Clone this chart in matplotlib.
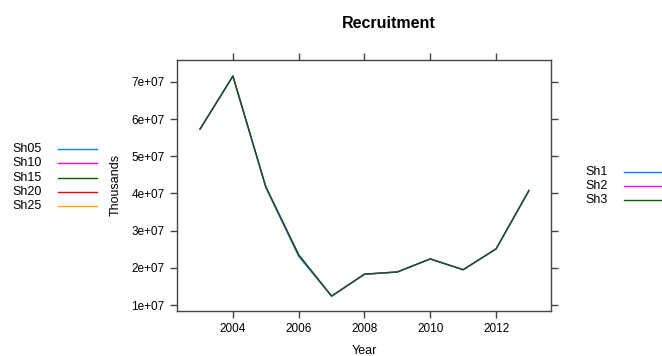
import matplotlib
matplotlib.use("Agg")
import matplotlib.pyplot as plt
from matplotlib.lines import Line2D

plt.rcParams['font.family'] = ['Liberation Sans', 'DejaVu Sans']

years = [2003, 2004, 2005, 2006, 2007, 2008, 2009, 2010, 2011, 2012, 2013]
sh1 = [5.73e7, 7.15e7, 4.16e7, 2.31e7, 1.24e7, 1.83e7, 1.89e7, 2.24e7, 1.95e7, 2.51e7, 4.08e7]
sh2 = [5.73e7, 7.16e7, 4.18e7, 2.35e7, 1.24e7, 1.83e7, 1.89e7, 2.24e7, 1.95e7, 2.51e7, 4.08e7]
sh3 = [5.73e7, 7.16e7, 4.18e7, 2.35e7, 1.24e7, 1.83e7, 1.89e7, 2.24e7, 1.95e7, 2.51e7, 4.08e7]

left_labels = ['Sh05', 'Sh10', 'Sh15', 'Sh20', 'Sh25']
left_colors = ['#0080ff', '#ff00ff', '#006400', '#ff0000', '#ffa500']
right_labels = ['Sh1', 'Sh2', 'Sh3']
right_colors = ['#0080ff', '#ff00ff', '#006400']

xticks = [2004, 2006, 2008, 2010, 2012]
yticks = [1e7, 2e7, 3e7, 4e7, 5e7, 6e7, 7e7]
ytick_labels = ['1e+07', '2e+07', '3e+07', '4e+07', '5e+07', '6e+07', '7e+07']

W, H = 662, 356
fig = plt.figure(figsize=(W / 100, H / 100), dpi=100)
ax = fig.add_axes([177 / W, 1 - 311 / H, (551 - 177) / W, (311 - 60) / H])

# series overlap almost exactly; last one (green) ends up on top
for vals, col in zip([sh1, sh2, sh3], right_colors):
    ax.plot(years, vals, color=col, lw=1)

ax.set_xlim(2002.3, 2013.67)
ax.set_ylim(0.84e7, 7.59e7)
ax.set_xticks(xticks)
ax.set_yticks(yticks)
ax.set_yticklabels(ytick_labels)
ax.tick_params(direction='out', length=5, width=1, color='#444444',
               labelsize=8.5, top=True, right=True, labeltop=False, labelright=False, pad=4)
for s in ax.spines.values():
    s.set_color('#444444')
    s.set_linewidth(1)

fig.text(389 / W, 1 - 23 / H, 'Recruitment', ha='center', va='center', fontsize=11.5, fontweight='bold')
fig.text(116 / W, 1 - 185 / H, 'Thousands', ha='center', va='center', rotation=90, fontsize=9)
fig.text(364 / W, 1 - 351 / H, 'Year', ha='center', va='center', fontsize=9)

# left key
for i, (lab, col) in enumerate(zip(left_labels, left_colors)):
    y = 1 - (149 + i * 14.3) / H
    fig.text(12 / W, y, lab, ha='left', va='center', fontsize=9)
    fig.add_artist(Line2D([58 / W, 97 / W], [y, y], color=col, lw=1, transform=fig.transFigure))

# right key
for i, (lab, col) in enumerate(zip(right_labels, right_colors)):
    y = 1 - (172 + i * 14.2) / H
    fig.text(585 / W, y, lab, ha='left', va='center', fontsize=9)
    fig.add_artist(Line2D([624 / W, 1.0], [y, y], color=col, lw=1, transform=fig.transFigure))

fig.savefig('out.png', dpi=100)
